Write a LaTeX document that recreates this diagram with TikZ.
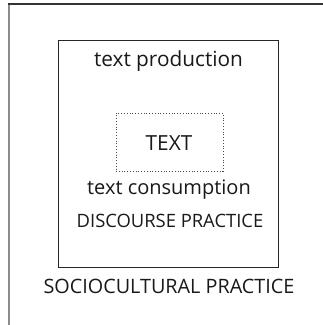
\documentclass[tikz,border=0pt]{standalone}
\usepackage{fontspec}
\setmainfont{Open Sans}
\begin{document}
\begin{tikzpicture}[x=1pt,y=-1pt,
  lbl/.style={inner sep=0pt, anchor=center, text=black!90},
  dotbox/.style={draw=black!70, dotted, line width=0.8pt}]
\useasboundingbox (0,0) rectangle (323,325);
\fill[white] (0,0) rectangle (323,325);
% outer frame (cropped)
\draw[line width=1.6pt, black!45] (9,4) -- (9,325);
\draw[line width=1.2pt, black!80] (8.5,4) -- (323,4);
% inner rectangle
\node[draw=black!85, line width=1pt, minimum width=220pt, minimum height=227pt, inner sep=0pt] (dp) at (169,153.5) {};
% dotted text box
\node[dotbox, minimum width=107pt, minimum height=58pt, inner sep=0pt] (tb) at (169.5,142) {};
\node[lbl, font=\fontsize{20.8}{24}\selectfont] (tp) at (168.5,61) {text production};
\node[lbl, font=\fontsize{20.8}{24}\selectfont] (tx) at (169,143) {TEXT};
\node[lbl, font=\fontsize{20}{24}\selectfont] (tc) at (169,190) {text consumption};
\node[lbl, font=\fontsize{18.4}{22}\selectfont] (dpl) at (170,221) {DISCOURSE PRACTICE};
\node[lbl, font=\fontsize{19.8}{23}\selectfont] (sp) at (169,286) {SOCIOCULTURAL PRACTICE};
\end{tikzpicture}
\end{document}
